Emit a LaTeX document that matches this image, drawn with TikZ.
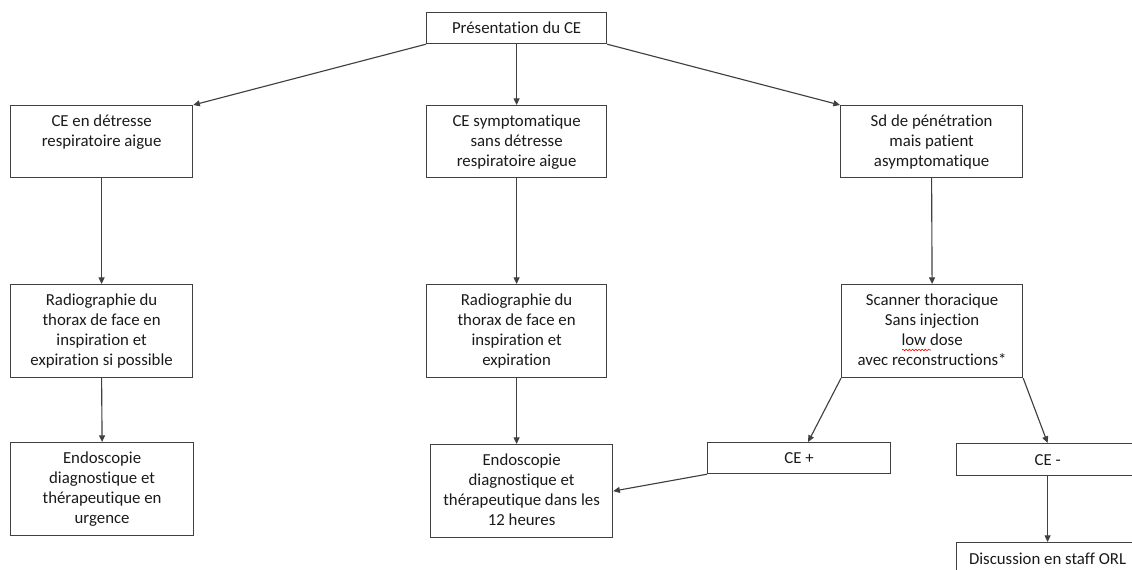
\documentclass[tikz,border=0pt]{standalone}
\usepackage{fontspec}
\setmainfont{Carlito}[Ligatures=NoCommon]
\usetikzlibrary{arrows.meta,decorations.pathmorphing}
\newcommand{\bxt}[3]{\parbox[c][#2][t]{#1}{\centering\fontsize{12.6pt}{15pt}\selectfont\vspace*{5.5pt}\strut #3\par}}
\newcommand{\bxc}[3]{\parbox[c][#2][c]{#1}{\centering\fontsize{12.6pt}{15pt}\selectfont #3\par}}
\definecolor{linec}{HTML}{404040}
\definecolor{txtc}{HTML}{1A1A1A}
\begin{document}
\begin{tikzpicture}[x=0.75pt,y=-0.75pt,
  bx/.style={draw=linec,line width=0.9pt,inner sep=0pt,anchor=north west,text=txtc},
  arr/.style={draw=linec,line width=0.85pt,-{Triangle[length=5pt,width=4.5pt]}},
  spell/.style={draw=red,line width=0.45pt,decorate,decoration={snake,amplitude=0.6pt,segment length=2.4pt}}]
\useasboundingbox (0,0) rectangle (1132,569);
\clip (0,0) rectangle (1132,569);
\node[bx] (top) at (426,12) {\bxc{135pt}{23.25pt}{Présentation du CE}};
\node[bx] (d1) at (10,105) {\bxt{136.5pt}{54pt}{CE en détresse\\respiratoire aigue}};
\node[bx] (s2) at (426,105) {\bxt{135pt}{54pt}{CE symptomatique\\sans détresse\\respiratoire aigue}};
\node[bx] (s3) at (840,105) {\bxt{136.5pt}{54pt}{Sd de pénétration\\mais patient\\asymptomatique}};
\node[bx] (r1) at (10,284) {\bxt{136.5pt}{69.75pt}{Radiographie du\\thorax de face en\\inspiration et\\expiration si possible}};
\node[bx] (r2) at (426,284) {\bxt{135pt}{69.75pt}{Radiographie du\\thorax de face en\\inspiration et\\expiration}};
\node[bx] (scan) at (841,284) {\bxt{135.75pt}{69.75pt}{Scanner thoracique\\Sans injection\\low dose\\avec reconstructions*}};
\node[bx] (e1) at (10,442) {\bxt{137.25pt}{69.75pt}{Endoscopie\\diagnostique et\\thérapeutique en\\urgence}};
\node[bx] (e2) at (430,444) {\bxt{136.5pt}{69.75pt}{Endoscopie\\diagnostique et\\thérapeutique dans les\\12 heures}};
\node[bx] (cep) at (707,442) {\bxc{137.25pt}{23.25pt}{CE +}};
\node[bx] (cem) at (956,443) {\bxc{136.5pt}{24pt}{CE -}};
\node[bx] (disc) at (956,542) {\bxc{136.5pt}{24pt}{Discussion en staff ORL}};
\draw[spell] ([shift={(61,66)}]scan.north west) -- ++(29,0);
\draw[arr] (top.south west) -- (d1.north east);
\draw[arr] (top.south) -- (s2.north);
\draw[arr] (top.south east) -- (s3.north west);
\draw[arr] (d1.south) -- (r1.north);
\draw[arr] (s2.south) -- (r2.north);
\draw[arr] (s3.south) -- (scan.north);
\draw[arr] (r1.south) -- (e1.north);
\draw[arr] (r2.south) -- (r2.south |- e2.north);
\draw[arr] (scan.south west) -- ([xshift=6.75pt]cep.north);
\draw[arr] (scan.south east) -- (cem.north);
\draw[arr] (cep.south west) -- (e2.east);
\draw[arr] (cem.south) -- (disc.north);
\end{tikzpicture}
\end{document}
